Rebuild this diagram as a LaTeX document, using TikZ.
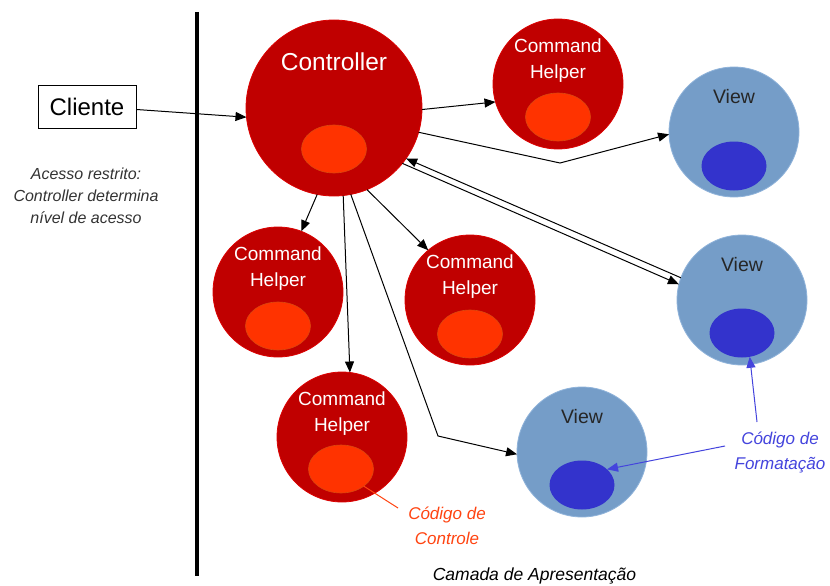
\documentclass[tikz,border=0pt]{standalone}
\usepackage{fontspec}
\setmainfont{Liberation Sans}
\usetikzlibrary{arrows.meta,shapes.geometric}
\definecolor{ballred}{HTML}{C00000}
\definecolor{rimred}{HTML}{DC0000}
\definecolor{coreorange}{HTML}{FF3300}
\definecolor{coreedge}{HTML}{D9480F}
\definecolor{ballblue}{HTML}{759DC8}
\definecolor{rimblue}{HTML}{8FB3DA}
\definecolor{coreblue}{HTML}{3333CC}
\definecolor{fmtblue}{HTML}{4444DD}
\definecolor{ctlorange}{HTML}{FF4411}
\definecolor{notegray}{HTML}{333333}
\begin{document}
\begin{tikzpicture}[x=1pt,y=-1pt,
  redball/.style={circle,fill=ballred,draw=rimred,line width=0.8pt,inner sep=0pt,outer sep=0pt,minimum size=130pt},
  blueball/.style={circle,fill=ballblue,draw=rimblue,line width=0.8pt,inner sep=0pt,outer sep=0pt,minimum size=130pt},
  redcore/.style={ellipse,fill=coreorange,draw=coreedge,line width=0.6pt,inner sep=0pt,outer sep=0pt,minimum width=65pt,minimum height=48pt},
  bluecore/.style={ellipse,fill=coreblue,inner sep=0pt,outer sep=0pt,minimum width=65pt,minimum height=49pt},
  chtxt/.style={text=white,align=center,inner sep=0pt,font=\fontsize{19}{26}\selectfont},
  viewtxt/.style={text=black!85,inner sep=0pt,font=\fontsize{19.5}{24}\selectfont},
  arr/.style={-{Triangle[length=11pt,width=9pt]},line width=1pt},
  noteit/.style={align=center,inner sep=0pt,font=\fontsize{16}{22}\selectfont\itshape},
  calltxt/.style={align=center,inner sep=0pt,font=\fontsize{17}{25}\selectfont\itshape},
]
\useasboundingbox (0,0) rectangle (830,586);
\fill[white] (0,0) rectangle (830,586);

% layer divider
\draw[line width=3.8pt] (197,12) -- (197,576);

% client
\node[draw,line width=1pt,minimum width=98pt,minimum height=43pt,inner sep=0pt,font=\fontsize{24}{28}\selectfont] (cli) at (87,106.5) {Cliente};
\node[noteit,text=notegray] (note) at (86,196) {Acesso restrito:\\Controller determina\\nível de acesso};

% controller
\node[redball,minimum size=176pt] (ctrl) at (334,108) {};
\node[redcore] (ctrlin) at (334,149) {};
\node[text=white,inner sep=0pt,font=\fontsize{24.5}{28}\selectfont] (ctrlT) at (334,62) {Controller};

% command helpers
\node[redball] (ch1) at (558,84) {};
\node[redcore] (ch1in) at (558,117) {};
\node[chtxt] (ch1T) at (558,61) {Command\\Helper};

\node[redball] (ch2) at (278,292) {};
\node[redcore] (ch2in) at (278,326) {};
\node[chtxt] (ch2T) at (278,269) {Command\\Helper};

\node[redball] (ch3) at (470,300) {};
\node[redcore] (ch3in) at (470,334) {};
\node[chtxt] (ch3T) at (470,277) {Command\\Helper};

\node[redball] (ch4) at (342,437) {};
\node[redcore] (ch4in) at (341,469) {};
\node[chtxt] (ch4T) at (342,414) {Command\\Helper};

% views
\node[blueball] (v1) at (734,132) {};
\node[bluecore] (v1in) at (734,166) {};
\node[viewtxt] (v1T) at (734,97) {View};

\node[blueball] (v2) at (742,300) {};
\node[bluecore] (v2in) at (742,333) {};
\node[viewtxt] (v2T) at (742,265) {View};

\node[blueball] (v3) at (582,452) {};
\node[bluecore] (v3in) at (582,485) {};
\node[viewtxt] (v3T) at (582,417) {View};

% connectors
\draw[arr] ([yshift=-3pt]cli.east) -- (ctrl.186.4);
\draw[arr] (ctrl.359) -- (ch1.196.3);
\coordinate (bend1) at (560,163);
\draw[arr] (ctrl.344) -- (bend1) -- (v1.182.6);
\draw[arr] (v2.160.2) -- (ctrl.325.6);
\draw[arr] (ctrl.321) -- (v2.166.8);
\draw[arr] (ctrl.259.7) -- (ch2.69.3);
\draw[arr] (ctrl.276) -- (ch4.83.8);
\draw[arr] (ctrl.292) -- (ch3.130.5);
\coordinate (bend2) at (438,436);
\draw[arr] (ctrl.281.4) -- (bend2) -- (v3.182.6);

% callouts
\node[calltxt,text=fmtblue] (fmt) at (780,453) {Código de\\Formatação};
\coordinate (fmtA) at (757,422);
\coordinate (fmtB) at (725,446);
\draw[-{Triangle[length=11pt,width=9pt]},line width=1pt,fmtblue] (fmtA) -- (v2in.288);
\draw[-{Triangle[length=11pt,width=9pt]},line width=1pt,fmtblue] (fmtB) -- (v3in.32.6);

\node[calltxt,text=ctlorange] (ctl) at (447,525.5) {Código de\\Controle};
\coordinate (ctlA) at (398,508);
\draw[line width=1pt,ctlorange] (ch4in.323) -- (ctlA);

\node[inner sep=0pt,font=\fontsize{17.5}{22}\selectfont\itshape] (layer) at (534.5,576) {Camada de Apresentação};
\end{tikzpicture}
\end{document}
